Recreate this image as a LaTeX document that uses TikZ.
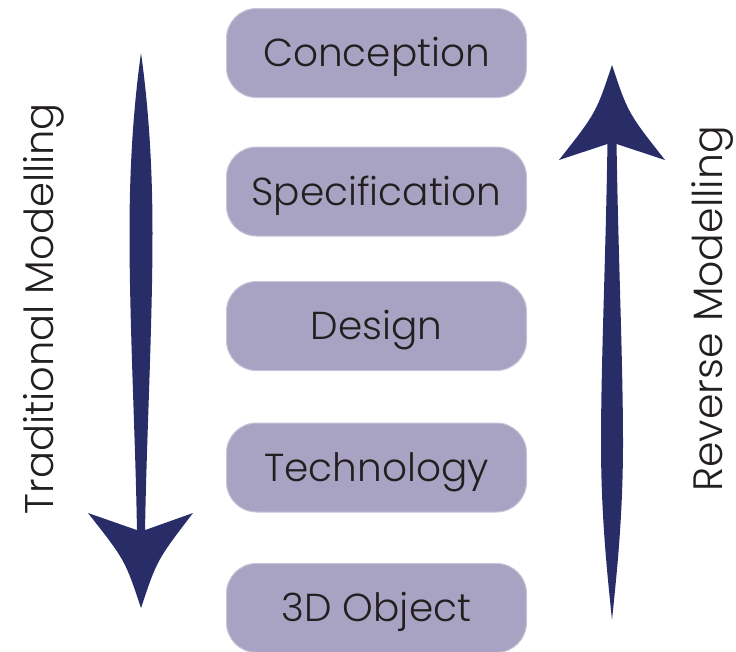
\documentclass[tikz,border=0pt]{standalone}
\usepackage{fontspec}
\setmainfont{Poppins Light}
\definecolor{boxfill}{RGB}{168,163,194}
\definecolor{boxline}{RGB}{200,196,217}
\definecolor{arrowblue}{RGB}{40,45,104}
\definecolor{txt}{RGB}{35,31,32}
\begin{document}
\begin{tikzpicture}[x=1pt,y=-1pt,
  stagebox/.style={draw=boxline, line width=1pt, fill=boxfill,
    rounded corners=30pt, minimum width=300pt, minimum height=89pt,
    inner sep=0pt, text=txt, font=\fontsize{39}{41}\selectfont,
    text height=27.3pt, text depth=0pt},
  sidelabel/.style={text=txt, rotate=90, inner sep=0pt, anchor=base},
  bigarrow/.style={fill=arrowblue, draw=none}]
\useasboundingbox (0,0) rectangle (736,651);

\node[stagebox] (conc) at (376.5,53) {Conception};
\node[stagebox] (spec) at (376.5,191.5) {Specification};
\node[stagebox] (desg) at (376.5,326) {Design};
\node[stagebox] (tech) at (376.5,467.5) {Technology};
\node[stagebox] (obj)  at (376.5,608) {3D Object};

\node[sidelabel, font=\fontsize{40}{42}\selectfont] (trad) at (53,308.5) {Traditional Modelling};
\node[sidelabel, font=\fontsize{41}{43}\selectfont] (rev)  at (722,309) {Reverse Modelling};

% left arrow (down)
\coordinate (ltop) at (141,53);
\coordinate (ltip) at (141,608);
\fill[bigarrow] (ltop) .. controls (149,110) and (152.5,170) .. (152.5,233)
  .. controls (152.5,330) and (146,450) .. (145,535)
  -- (137,535) .. controls (136,450) and (129.5,330) .. (129.5,233)
  .. controls (129.5,170) and (133,110) .. (ltop) -- cycle;
\fill[bigarrow] (88,513) -- (141,531.5) -- (193,513)
  .. controls (157,560) .. (ltip)
  .. controls (125,560) .. (88,513) -- cycle;

% right arrow (up)
\coordinate (rtip) at (612,65);
\coordinate (rbot) at (612,620);
\fill[bigarrow] (607.5,140) -- (616.5,140)
  .. controls (618,250) and (623,360) .. (623,443)
  .. controls (623,520) and (616,580) .. (rbot)
  .. controls (608,580) and (601,520) .. (601,443)
  .. controls (601,360) and (606,250) .. (607.5,140) -- cycle;
\fill[bigarrow] (559,160) -- (612,142.5) -- (665,160)
  .. controls (628,113) .. (rtip)
  .. controls (596,113) .. (559,160) -- cycle;
\end{tikzpicture}
\end{document}
